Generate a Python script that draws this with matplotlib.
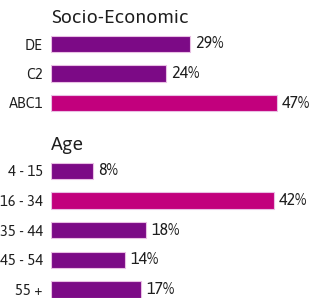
import matplotlib.pyplot as plt

plt.rcParams['font.family'] = ['Asap', 'DejaVu Sans']

socio_labels = ['DE', 'C2', 'ABC1']
socio_values = [29, 24, 47]
age_labels = ['4 - 15', '16 - 34', '35 - 44', '45 - 54', '55 +']
age_values = [8, 42, 18, 14, 17]

purple = '#7c0a86'
magenta = '#c2007d'
txt = '#1e1e1e'

W, H = 323, 298
fig = plt.figure(figsize=(W / 100, H / 100), dpi=100)


def section(rect, labels, values, xmax, title):
    ax = fig.add_axes(rect)
    n = len(values)
    top = max(values)
    colors = [magenta if v == top else purple for v in values]
    ax.barh(range(n), values, height=0.55, color=colors,
            edgecolor='#e9bfe4', linewidth=0.8)
    for i, v in enumerate(values):
        ax.text(v + xmax * 0.018, i, '%d%%' % v, va='center', ha='left',
                fontsize=11.5, color=txt)
    ax.set_xlim(0, xmax)
    ax.set_ylim(n - 0.5, -0.5)
    ax.set_yticks(range(n))
    ax.set_yticklabels(labels, fontsize=10.5, color=txt)
    ax.tick_params(axis='y', length=0, pad=6)
    ax.set_xticks([])
    for s in ax.spines.values():
        s.set_visible(False)
    ax.patch.set_alpha(0)
    ax.text(0, -0.71, title, fontsize=14, color=txt,
            ha='left', va='baseline')
    return ax


# socio-economic block
section([51 / W, 1 - 117.75 / H, 272 / W, 88.5 / H],
        socio_labels, socio_values, 272 / 4.81, 'Socio-Economic')
# age block
section([51 / W, 1 - 304.2 / H, 272 / W, 148 / H],
        age_labels, age_values, 272 / 5.3, 'Age')

fig.savefig('out.png', dpi=100)
